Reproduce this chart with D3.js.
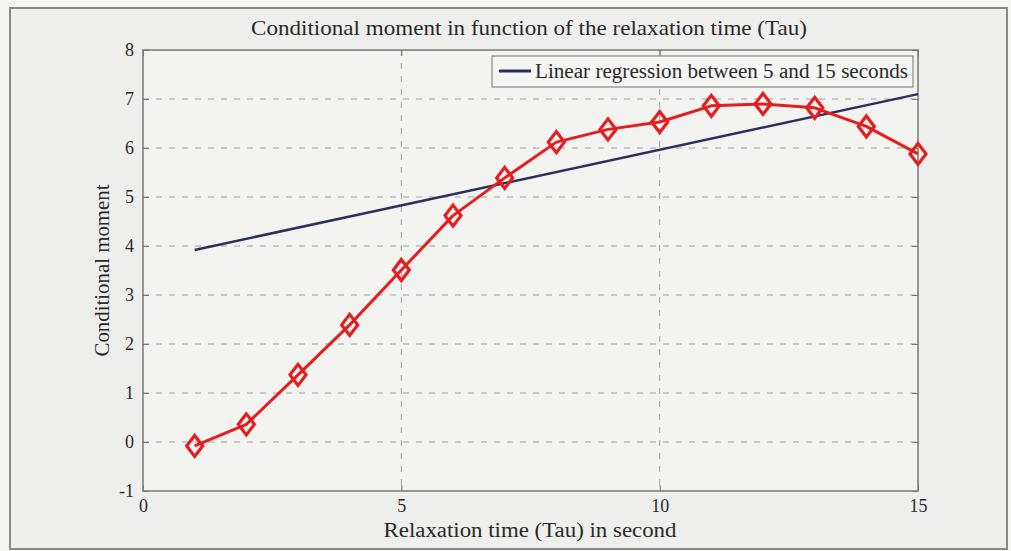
<!DOCTYPE html>
<html>
<head>
<meta charset="utf-8">
<script src="https://cdn.jsdelivr.net/npm/d3@7"></script>
<style>
  html, body { margin: 0; padding: 0; background: #f4f4f2; }
  svg { display: block; }
  text { font-family: "Liberation Serif", "DejaVu Serif", serif; fill: #2a2a2a; }
</style>
</head>
<body>
<svg id="chart" width="1011" height="551"></svg>
<script>
// Relaxation time (s) and the conditional moment measured at each
const tau = [1, 2, 3, 4, 5, 6, 7, 8, 9, 10, 11, 12, 13, 14, 15];
const moment = [-0.08, 0.36, 1.37, 2.39, 3.51, 4.62, 5.39, 6.12, 6.38, 6.53, 6.86, 6.9, 6.82, 6.44, 5.88];

// Endpoints of the fitted regression line
const regTau = [1, 15];
const regMoment = [3.92, 7.1];

const xTicks = [0, 5, 10, 15];
const yTicks = [-1, 0, 1, 2, 3, 4, 5, 6, 7, 8];

const titleText = "Conditional moment in function of the relaxation time (Tau)";
const xLabel = "Relaxation time (Tau) in second";
const yLabel = "Conditional moment";
const legendText = "Linear regression between 5 and 15 seconds";

const svg = d3.select("#chart");
const plot = { left: 143, right: 918, top: 50, bottom: 491 };
const serif = '"Liberation Serif", "DejaVu Serif", serif';

// figure frame
svg.append("rect").attr("x", 10).attr("y", 8).attr("width", 997).attr("height", 541)
  .attr("fill", "#eeeeec").attr("stroke", "#8a8a8a").attr("stroke-width", 2);

const x = d3.scaleLinear().domain([0, 15]).range([plot.left, plot.right]);
const y = d3.scaleLinear().domain([-1, 8]).range([plot.bottom, plot.top]);

// axes background
svg.append("rect").attr("x", plot.left).attr("y", plot.top)
  .attr("width", plot.right - plot.left).attr("height", plot.bottom - plot.top)
  .attr("fill", "#f3f3f1");

// grid
const grid = svg.append("g").attr("stroke", "#a0a0a0").attr("stroke-width", 1)
  .attr("stroke-dasharray", "6,7");
grid.selectAll(".gy").data(yTicks.filter(d => d > -1 && d < 8)).join("line")
  .attr("x1", plot.left).attr("x2", plot.right)
  .attr("y1", d => y(d)).attr("y2", d => y(d));
grid.selectAll(".gx").data(xTicks.filter(d => d > 0 && d < 15)).join("line")
  .attr("y1", plot.top).attr("y2", plot.bottom)
  .attr("x1", d => x(d)).attr("x2", d => x(d));

// axes with inward ticks
const axisStyle = g => {
  g.attr("font-family", serif).attr("font-size", 18);
  g.select(".domain").remove();
  g.selectAll(".tick line").attr("stroke", "#777");
  g.selectAll(".tick text").attr("fill", "#2a2a2a");
};
const fmt = d => String(d);
svg.append("g").attr("transform", `translate(0,${plot.bottom})`)
  .call(d3.axisBottom(x).tickValues(xTicks).tickFormat(fmt).tickSizeInner(-6).tickPadding(8))
  .call(axisStyle);
svg.append("g").attr("transform", `translate(0,${plot.top})`)
  .call(d3.axisTop(x).tickValues(xTicks).tickSizeInner(-6).tickFormat(""))
  .call(axisStyle);
svg.append("g").attr("transform", `translate(${plot.left},0)`)
  .call(d3.axisLeft(y).tickValues(yTicks).tickFormat(fmt).tickSizeInner(-6).tickPadding(9))
  .call(axisStyle);
svg.append("g").attr("transform", `translate(${plot.right},0)`)
  .call(d3.axisRight(y).tickValues(yTicks).tickSizeInner(-6).tickFormat(""))
  .call(axisStyle);

// axes box
svg.append("rect").attr("x", plot.left).attr("y", plot.top)
  .attr("width", plot.right - plot.left).attr("height", plot.bottom - plot.top)
  .attr("fill", "none").attr("stroke", "#777").attr("stroke-width", 1.5);

// regression line
const reg = regTau.map((t, i) => [t, regMoment[i]]);
svg.append("path").datum(reg)
  .attr("d", d3.line().x(d => x(d[0])).y(d => y(d[1])))
  .attr("fill", "none").attr("stroke", "#2e2d5e").attr("stroke-width", 2.5);

// measured series
const pts = tau.map((t, i) => [t, moment[i]]);
svg.append("path").datum(pts)
  .attr("d", d3.line().x(d => x(d[0])).y(d => y(d[1])))
  .attr("fill", "none").attr("stroke", "#e41e1e").attr("stroke-width", 3)
  .attr("stroke-linejoin", "round");

svg.append("g").selectAll("path").data(pts).join("path")
  .attr("transform", d => `translate(${x(d[0])},${y(d[1])})`)
  .attr("d", "M0,-10.5L8,0L0,10.5L-8,0Z")
  .attr("fill", "none").attr("stroke", "#e41e1e").attr("stroke-width", 3.2)
  .attr("stroke-linejoin", "miter");

// legend
const lg = svg.append("g");
lg.append("rect").attr("x", 492).attr("y", 56).attr("width", 421).attr("height", 31)
  .attr("fill", "#f5f5f3").attr("stroke", "#888").attr("stroke-width", 1.2);
lg.append("line").attr("x1", 499).attr("x2", 531).attr("y1", 71).attr("y2", 71)
  .attr("stroke", "#2e2d5e").attr("stroke-width", 3);
lg.append("text").attr("x", 535).attr("y", 78).style("font-size", "20px")
  .attr("textLength", 373).attr("lengthAdjust", "spacingAndGlyphs").text(legendText);

// title and axis labels
svg.append("text").attr("x", 529).attr("y", 35).attr("text-anchor", "middle")
  .style("font-size", "21px").attr("textLength", 556).attr("lengthAdjust", "spacingAndGlyphs")
  .text(titleText);
svg.append("text").attr("x", 530).attr("y", 537).attr("text-anchor", "middle")
  .style("font-size", "20px").attr("textLength", 293).attr("lengthAdjust", "spacingAndGlyphs")
  .text(xLabel);
svg.append("text").attr("transform", `translate(109,${(plot.top + plot.bottom) / 2}) rotate(-90)`)
  .attr("text-anchor", "middle").style("font-size", "21px")
  .attr("textLength", 172).attr("lengthAdjust", "spacingAndGlyphs").text(yLabel);
</script>
</body>
</html>
